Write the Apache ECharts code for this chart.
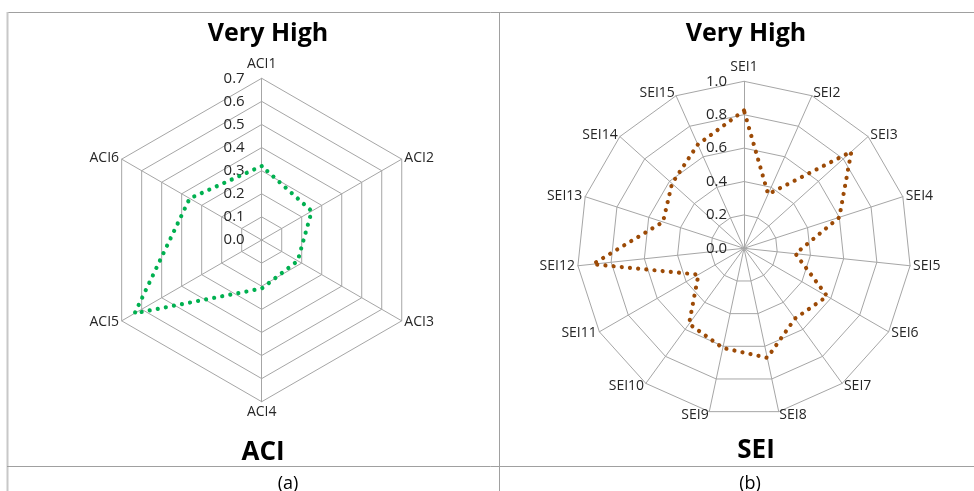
<!DOCTYPE html>
<html>
<head>
<meta charset="utf-8">
<script src="https://cdn.jsdelivr.net/npm/echarts@6/dist/echarts.min.js"></script>
<style>
html,body{margin:0;padding:0;background:#fff;}
#c{width:974px;height:491px;}
</style>
</head>
<body>
<div id="c"></div>
<script>
// ---- data ----
const aciCategories = ['ACI1', 'ACI2', 'ACI3', 'ACI4', 'ACI5', 'ACI6'];
const aciValues = [0.32, 0.25, 0.18, 0.21, 0.635, 0.36];
const aciTickLabels = ['0.0', '0.1', '0.2', '0.3', '0.4', '0.5', '0.6', '0.7'];

const seiCategories = ['SEI1', 'SEI2', 'SEI3', 'SEI4', 'SEI5', 'SEI6', 'SEI7', 'SEI8',
  'SEI9', 'SEI10', 'SEI11', 'SEI12', 'SEI13', 'SEI14', 'SEI15'];
const seiValues = [0.825, 0.355, 0.865, 0.6, 0.31, 0.575, 0.52, 0.67,
  0.61, 0.56, 0.315, 0.91, 0.51, 0.58, 0.68];
const seiTickLabels = ['0.0', '0.2', '0.4', '0.6', '0.8', '1.0'];

const panelTitles = ['Very High', 'Very High'];
const panelNames = ['ACI', 'SEI'];
const panelTags = ['(a)', '(b)'];

// ---- helpers ----
const FONT = '"Open Sans", "Noto Sans", sans-serif';
const GRID = '#a6a6a6';
const TXT = '#262626';

// ECharts places radar indicators counter-clockwise; reorder so they run clockwise
function clockwiseOrder(n) {
  const idx = [0];
  for (let i = n - 1; i >= 1; i--) idx.push(i);
  return idx;
}

function makeRadar(cats, ticks, center, radius) {
  const max = parseFloat(ticks[ticks.length - 1]);
  const order = clockwiseOrder(cats.length);
  return {
    center: center,
    radius: radius,
    startAngle: 90,
    shape: 'polygon',
    splitNumber: ticks.length - 1,
    nameGap: 3,
    axisName: { color: TXT, fontSize: 14, fontFamily: FONT },
    splitLine: { lineStyle: { color: GRID, width: 1 } },
    splitArea: { show: false },
    axisLine: { lineStyle: { color: GRID, width: 1 } },
    axisTick: { show: false },
    axisLabel: { show: false },
    indicator: order.map((i, k) => {
      const ind = { name: cats[i], min: 0, max: max };
      if (k === 0) {
        ind.axisLabel = {
          show: true, fontSize: 15, color: TXT, fontFamily: FONT,
          margin: 17, align: 'right', verticalAlign: 'middle',
          formatter: (v) => ticks[Math.round(v / max * (ticks.length - 1))]
        };
      }
      return ind;
    }),
    _order: order
  };
}

const r0 = makeRadar(aciCategories, aciTickLabels, [261.7, 240], 161.7);
const r1 = makeRadar(seiCategories, seiTickLabels, [744, 248.3], 167);
const ord0 = r0._order; delete r0._order;
const ord1 = r1._order; delete r1._order;

function dotted(color) {
  return { color: color, width: 4.2, type: [0.01, 8.2], cap: 'round', join: 'round' };
}

const frame = '#a0a0a0';
const option = {
  animation: false,
  backgroundColor: '#fff',
  title: [
    { text: panelTitles[0], left: 263, top: 16, textAlign: 'center',
      textStyle: { fontSize: 25, fontWeight: 'bold', color: '#000', fontFamily: FONT } },
    { text: panelTitles[1], left: 741, top: 16, textAlign: 'center',
      textStyle: { fontSize: 25, fontWeight: 'bold', color: '#000', fontFamily: FONT } },
    { text: panelNames[0], left: 258, top: 435, textAlign: 'center',
      textStyle: { fontSize: 26, fontWeight: 'bold', color: '#000', fontFamily: FONT } },
    { text: panelNames[1], left: 751, top: 433, textAlign: 'center',
      textStyle: { fontSize: 26, fontWeight: 'bold', color: '#000', fontFamily: FONT } },
    { text: panelTags[0], left: 283, top: 470, textAlign: 'center',
      textStyle: { fontSize: 18, fontWeight: 'normal', color: '#000', fontFamily: FONT } },
    { text: panelTags[1], left: 745, top: 470, textAlign: 'center',
      textStyle: { fontSize: 18, fontWeight: 'normal', color: '#000', fontFamily: FONT } }
  ],
  graphic: [
    { type: 'line', shape: { x1: 7, y1: 12.5, x2: 974, y2: 12.5 }, style: { stroke: frame, lineWidth: 1 }, silent: true },
    { type: 'line', shape: { x1: 7.5, y1: 12, x2: 7.5, y2: 491 }, style: { stroke: '#c8c8c8', lineWidth: 2 }, silent: true },
    { type: 'line', shape: { x1: 499.5, y1: 12, x2: 499.5, y2: 491 }, style: { stroke: frame, lineWidth: 1 }, silent: true },
    { type: 'line', shape: { x1: 7, y1: 466.5, x2: 974, y2: 466.5 }, style: { stroke: frame, lineWidth: 1 }, silent: true }
  ],
  radar: [r0, r1],
  series: [
    { type: 'radar', radarIndex: 0, symbol: 'none',
      lineStyle: dotted('#00b050'),
      data: [{ value: ord0.map(i => aciValues[i]) }] },
    { type: 'radar', radarIndex: 1, symbol: 'none',
      lineStyle: dotted('#9c4a06'),
      data: [{ value: ord1.map(i => seiValues[i]) }] }
  ]
};

const chart = echarts.init(document.getElementById('c'), null, { renderer: 'canvas' });
chart.setOption(option);
</script>
</body>
</html>
